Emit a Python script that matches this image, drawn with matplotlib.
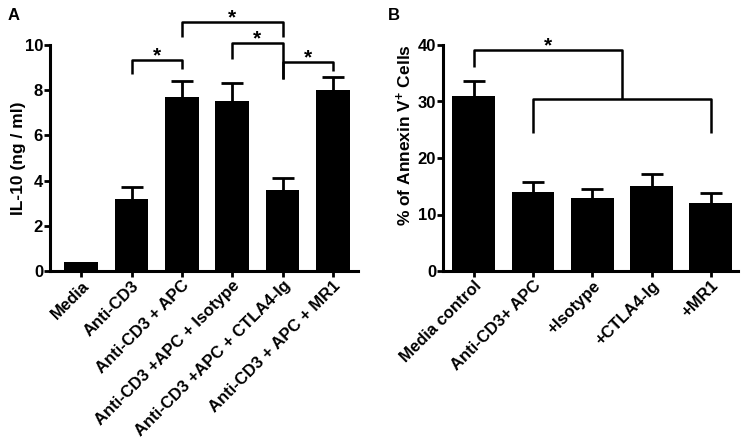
import numpy as np
import matplotlib.pyplot as plt

plt.rcParams['font.family'] = ['Liberation Sans', 'DejaVu Sans']
plt.rcParams['font.weight'] = 'bold'
plt.rcParams['mathtext.fontset'] = 'custom'
plt.rcParams['mathtext.bf'] = 'Liberation Sans:bold'
plt.rcParams['mathtext.rm'] = 'Liberation Sans:bold'
plt.rcParams['mathtext.default'] = 'bf'

# ------------------------------------------------------------------
# Data panel A
# ------------------------------------------------------------------
labels_a = ['Media', 'Anti-CD3', 'Anti-CD3 + APC', 'Anti-CD3 +APC + Isotype',
            'Anti-CD3 +APC + CTLA4-Ig', 'Anti-CD3 + APC + MR1']
il10 = [0.4, 3.2, 7.7, 7.5, 3.6, 8.0]
il10_err = [0.0, 0.5, 0.7, 0.8, 0.5, 0.6]
# (left bar, right bar, bracket height, left leg end, right leg end)
brackets_a = [(1, 2, 9.33, 8.7, 8.96),
              (2, 4, 11.03, 10.35, 10.35),
              (3, 4, 10.1, 9.37, 8.5),
              (4, 5, 9.26, 8.5, 8.86)]

# ------------------------------------------------------------------
# Data panel B
# ------------------------------------------------------------------
labels_b = ['Media control', 'Anti-CD3+ APC', '+Isotype', '+CTLA4-Ig', '+MR1']
annexin = [31.0, 14.0, 13.0, 15.0, 12.0]
annexin_err = [2.6, 1.8, 1.6, 2.2, 1.8]

fig = plt.figure(figsize=(7.43, 4.48), dpi=100)
W, H = 743.0, 448.0
axa = fig.add_axes([50/W, 1-271/H, 308/W, 226/H])
axb = fig.add_axes([443/W, 1-271/H, 295/W, 226/H])


def style(ax):
    for s in ['top', 'right']:
        ax.spines[s].set_visible(False)
    for s in ['left', 'bottom']:
        ax.spines[s].set_linewidth(2.2)
    ax.tick_params(direction='out', length=4, width=2, labelsize=12, pad=1)
    for t in ax.get_yticklabels():
        t.set_fontweight('bold')


def bars(ax, vals, errs, width):
    x = np.arange(len(vals))
    ax.bar(x, vals, width=width, color='black', zorder=2)
    vals = np.array(vals)
    errs = np.array(errs)
    m = errs > 0
    # symmetric bars, the lower half hides behind the black bar
    ax.errorbar(x[m], vals[m], yerr=errs[m], fmt='none', ecolor='black',
                elinewidth=2, capsize=8, capthick=2, zorder=1)
    return x


# panel A
xa = bars(axa, il10, il10_err, 0.67)
axa.set_xlim(-0.62, 5.5)
axa.set_ylim(0, 10)
axa.set_yticks([0, 2, 4, 6, 8, 10])
axa.set_xticks(xa)
axa.set_xticklabels(labels_a, rotation=45, ha='right', rotation_mode='anchor',
                    fontsize=11.5, fontweight='bold')
axa.set_ylabel('IL-10 (ng / ml)', fontsize=12.5, fontweight='bold')
axa.yaxis.set_label_coords(-0.078, 0.5)
style(axa)
for i, j, yt, yl, yr in brackets_a:
    axa.plot([i, i, j, j], [yl, yt, yt, yr], color='black', lw=1.8,
             clip_on=False, solid_capstyle='butt')
    axa.annotate('*', xy=((i + j) / 2, yt), xytext=(0, -1), textcoords='offset points',
                 ha='center', va='baseline', fontsize=15, fontweight='bold',
                 annotation_clip=False)

# panel B
xb = bars(axb, annexin, annexin_err, 0.72)
axb.set_xlim(-0.52, 4.46)
axb.set_ylim(0, 40)
axb.set_yticks([0, 10, 20, 30, 40])
axb.set_xticks(xb)
axb.set_xticklabels(labels_b, rotation=45, ha='right', rotation_mode='anchor',
                    fontsize=11.5, fontweight='bold')
axb.set_ylabel(r'% of Annexin V$^{+}$ Cells', fontsize=12.5, fontweight='bold')
axb.yaxis.set_label_coords(-0.098, 0.6)
style(axb)
mid = 2.5
axb.plot([0, 0, mid, mid], [36.1, 39.1, 39.1, 30.4], color='black', lw=1.8,
         clip_on=False, solid_capstyle='butt')
axb.plot([1, 1, 4, 4], [24.5, 30.4, 30.4, 24.5], color='black', lw=1.8,
         clip_on=False, solid_capstyle='butt')
axb.annotate('*', xy=(mid / 2, 39.1), xytext=(0, -1), textcoords='offset points',
             ha='center', va='baseline', fontsize=15, fontweight='bold',
             annotation_clip=False)

fig.text(8/W, 1-16/H, 'A', fontsize=12, fontweight='bold', va='center')
fig.text(388/W, 1-16/H, 'B', fontsize=12, fontweight='bold', va='center')

plt.savefig('out.png', dpi=100)
